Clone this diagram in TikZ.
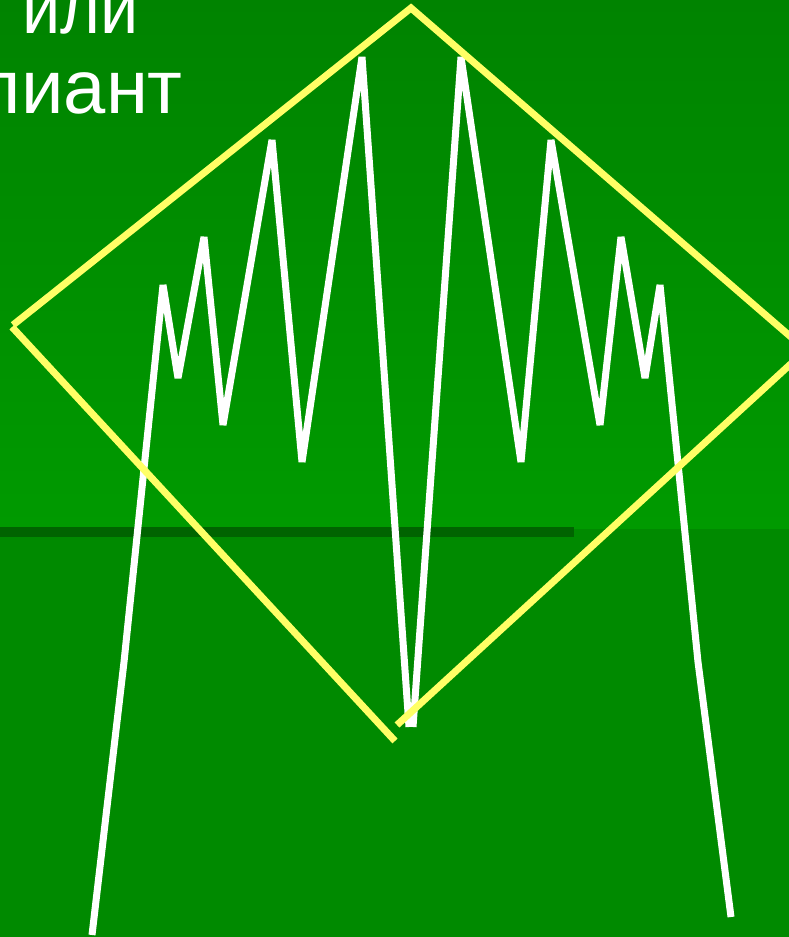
\documentclass[tikz,border=0pt]{standalone}
\usepackage{fontspec}
\setmainfont{Liberation Sans}
\definecolor{bgtop}{HTML}{008300}
\definecolor{bgmid}{HTML}{009A00}
\definecolor{bgbot}{HTML}{008A00}
\definecolor{band}{HTML}{006400}
\definecolor{dyellow}{HTML}{FFFF66}
\tikzset{
  wave/.style={draw=white,line width=7pt,line join=bevel,line cap=butt},
  diam/.style={draw=dyellow,line width=7pt,line cap=butt},
  big/.style={text=white,inner sep=0pt,font=\fontsize{76}{80}\selectfont}
}
\begin{document}
\begin{tikzpicture}[x=1pt,y=-1pt]
\useasboundingbox (0,0) rectangle (789,937);
\clip (0,0) rectangle (789,937);
% background
\fill[bgbot] (0,528) rectangle (789,937);
\shade[top color=bgtop,bottom color=bgmid] (0,0) rectangle (789,528);
\fill[band] (0,527) rectangle (574,537);
% text
\node[big,anchor=base east,xscale=0.9] (t1) at (139,33) {или};
\node[big,anchor=base east] (t2) at (183,113) {лиант};
% white wave
\draw[wave] (92,935) -- (124,662) -- (163,285) -- (178,378) -- (204,237) -- (223,425)
  -- (272,140) -- (302,462) -- (362,57) -- (409,727);
\draw[wave] (413,727) -- (461,57) -- (521,462) -- (551,140) -- (600,425) -- (621,237)
  -- (645,378) -- (660,285) -- (698,662) -- (731,917);
% yellow diamond
\coordinate (dtop) at (411,8);
\coordinate (dleft) at (13,325);
\coordinate (dright) at (806,350);
\coordinate (dbl) at (395,741);
\coordinate (dbr) at (397,725);
\draw[diam,line join=miter] (dleft) -- (dtop) -- (dright) -- (dbr);
\draw[diam] (12,327) -- (dbl);
\end{tikzpicture}
\end{document}
